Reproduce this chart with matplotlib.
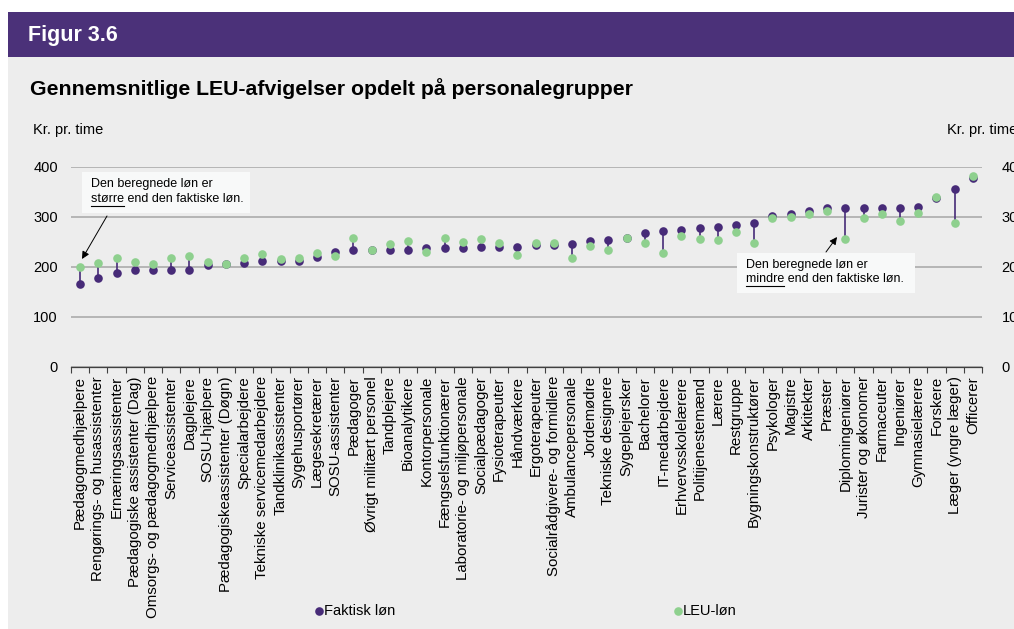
import matplotlib.pyplot as plt
from matplotlib.patches import Rectangle
from matplotlib.lines import Line2D

plt.rcParams['font.family'] = ['Liberation Sans', 'DejaVu Sans']

# Personalegrupper, sorteret efter faktisk løn
grupper = [
    'Pædagogmedhjælpere', 'Rengørings- og husassistenter', 'Ernæringsassistenter',
    'Pædagogiske assistenter (Dag)', 'Omsorgs- og pædagogmedhjælpere', 'Serviceassistenter',
    'Dagplejere', 'SOSU-hjælpere', 'Pædagogiskeassistenter (Døgn)', 'Specialarbejdere',
    'Tekniske servicemedarbejdere', 'Tandklinikassistenter', 'Sygehusportører',
    'Lægesekretærer', 'SOSU-assistenter', 'Pædagoger', 'Øvrigt militært personel',
    'Tandplejere', 'Bioanalytikere', 'Kontorpersonale', 'Fængselsfunktionærer',
    'Laboratorie- og miljøpersonale', 'Socialpædagoger', 'Fysioterapeuter', 'Håndværkere',
    'Ergoterapeuter', 'Socialrådgivere- og formidlere', 'Ambulancepersonale', 'Jordemødre',
    'Tekniske designere', 'Sygeplejersker', 'Bachelorer', 'IT-medarbejdere',
    'Erhvervsskolelærere', 'Politijenestemænd', 'Lærere', 'Restgruppe',
    'Bygningskonstruktører', 'Psykologer', 'Magistre', 'Arkitekter', 'Præster',
    'Diplomingeniører', 'Jurister og økonomer', 'Farmaceuter', 'Ingeniører',
    'Gymnasielærere', 'Forskere', 'Læger (yngre læger)', 'Officerer',
]

faktisk_loen = [
    166, 177, 188, 193, 193, 193, 194, 204, 205, 207,
    211, 212, 212, 220, 230, 233, 233, 233, 234, 237,
    237, 238, 239, 239, 240, 243, 244, 245, 251, 253,
    257, 268, 271, 274, 277, 280, 283, 287, 301, 305,
    311, 317, 317, 317, 317, 318, 319, 337, 355, 378,
]

leu_loen = [
    199, 208, 217, 209, 206, 217, 221, 209, 205, 217,
    225, 215, 218, 227, 221, 258, 233, 245, 252, 230,
    257, 249, 255, 248, 224, 248, 247, 218, 242, 233,
    257, 247, 227, 261, 255, 254, 270, 247, 297, 300,
    306, 311, 255, 297, 305, 291, 308, 339, 287, 381,
]

yticks = [0, 100, 200, 300, 400]

W, H = 1014, 629
PURPLE = '#472B78'
GREEN = '#8ED08E'
BG = '#EDEDED'


def fx(px):
    return px / W


def fy(py):
    return 1 - py / H


fig = plt.figure(figsize=(W / 100, H / 100), dpi=100, facecolor='white')

# baggrund og header
fig.patches.append(Rectangle((fx(8), 0), 1, fy(57), transform=fig.transFigure,
                             facecolor=BG, edgecolor='none', zorder=-10))
fig.patches.append(Rectangle((fx(8), fy(57)), 1, fy(12) - fy(57), transform=fig.transFigure,
                             facecolor='#4B3179', edgecolor='none', zorder=-10))
fig.text(fx(28), fy(35), 'Figur 3.6', color='white', fontsize=15.5, fontweight='bold',
         va='center', ha='left')
fig.text(fx(30), fy(89), 'Gennemsnitlige LEU-afvigelser opdelt på personalegrupper',
         fontsize=15.3, fontweight='bold', va='center', ha='left')
fig.text(fx(33), fy(130), 'Kr. pr. time', fontsize=10.5, va='center', ha='left')
fig.text(fx(947), fy(130), 'Kr. pr. time', fontsize=10.5, va='center', ha='left')

ax = fig.add_axes([fx(71), fy(367), fx(982) - fx(71), fy(166.7) - fy(367)])
ax.set_facecolor('none')

x = list(range(len(grupper)))
ax.vlines(x, faktisk_loen, leu_loen, color=PURPLE, lw=1.2, zorder=3)
ax.plot(x, faktisk_loen, 'o', color=PURPLE, ms=6.2, mec='none', zorder=4, clip_on=False)
ax.plot(x, leu_loen, 'o', color=GREEN, ms=6.2, mec='none', zorder=5, clip_on=False)

ax.set_xlim(-0.5, len(grupper) - 0.5)
ax.set_ylim(0, 400)
ax.set_yticks(yticks)
ax.yaxis.grid(True, color='#A6A6A6', lw=1.1)
ax.set_axisbelow(True)
ax.tick_params(axis='y', length=0, labelsize=10.5, pad=9.5)

# højre akse med samme skala
ax2 = ax.twinx()
ax2.set_ylim(ax.get_ylim())
ax2.set_yticks(yticks)
ax2.tick_params(axis='y', length=0, labelsize=10.5, pad=14)
for s in ax2.spines.values():
    s.set_visible(False)

ax.set_xticks(x)
ax.set_xticklabels(grupper, rotation=90, fontsize=10.8)
ax.set_xticks([i - 0.5 for i in range(len(grupper) + 1)], minor=True)
ax.tick_params(axis='x', which='major', length=0, pad=6.5)
ax.tick_params(axis='x', which='minor', length=4, color='#404040', width=0.8)

for s in ['left', 'right', 'top']:
    ax.spines[s].set_visible(False)
ax.spines['bottom'].set_color('#404040')
ax.spines['bottom'].set_linewidth(0.9)

# annotationsbokse
boxes = [
    ((82, 172, 250, 213), 91, 'større', (107, 216), (82, 259)),
    ((737, 253, 915, 293), 746, 'mindre', (826, 252), (837, 237)),
]
fig.canvas.draw()
renderer = fig.canvas.get_renderer()
for (x0, y0, x1, y1), tx, word, tail, head in boxes:
    fig.patches.append(Rectangle((fx(x0), fy(y1)), fx(x1) - fx(x0), fy(y0) - fy(y1),
                                 transform=fig.transFigure, facecolor='#F8F9F9',
                                 edgecolor='none', zorder=6))
    ly1 = y0 + (y1 - y0) * 0.3
    ly2 = y0 + (y1 - y0) * 0.66
    fig.text(fx(tx), fy(ly1), 'Den beregnede løn er', fontsize=9, va='center', zorder=7)
    fig.text(fx(tx), fy(ly2), word + ' end den faktiske løn.', fontsize=9, va='center', zorder=7)
    tmp = fig.text(fx(tx), fy(ly2), word, fontsize=9, va='center')
    bb = tmp.get_window_extent(renderer)
    tmp.remove()
    fig.add_artist(Line2D([bb.x0 / W, bb.x1 / W], [fy(ly2 + 6.5), fy(ly2 + 6.5)],
                          color='black', lw=0.8, zorder=7))
    ax.annotate('', xy=(fx(head[0]), fy(head[1])), xycoords='figure fraction',
                xytext=(fx(tail[0]), fy(tail[1])), textcoords='figure fraction',
                arrowprops=dict(arrowstyle='-|>', color='black', lw=0.7,
                                mutation_scale=11, shrinkA=0, shrinkB=0))

# forklaring
for mx, label, col in [(319, 'Faktisk løn', PURPLE), (678, 'LEU-løn', GREEN)]:
    fig.add_artist(Line2D([fx(mx)], [fy(611)], marker='o', ms=6.2, color=col, mec='none'))
    fig.text(fx(mx + 5), fy(611), label, fontsize=10.5, va='center', ha='left')

fig.savefig('out.png', dpi=100, facecolor='white')
